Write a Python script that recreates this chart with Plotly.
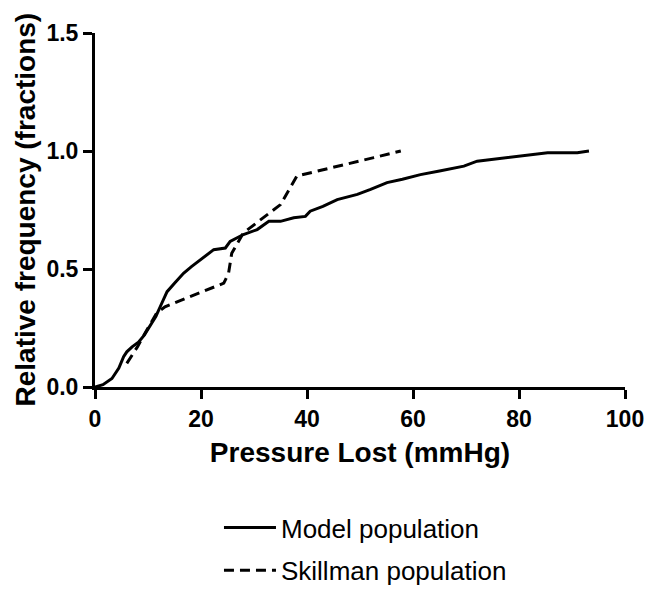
import plotly.graph_objects as go

# Model population (cumulative relative frequency)
model_x = [0, 1.5, 3.2, 4.5, 5.4, 6.0, 7.0, 8.2, 9.3, 10.4, 11.5, 12.3, 13.6, 15.0, 16.7,
           18.2, 19.9, 21.0, 22.4, 24.6, 25.5, 28.0, 30.6, 32.8, 35.0, 37.5, 39.7, 40.6,
           43.0, 45.7, 47.5, 49.5, 52.0, 55.1, 58.0, 61.4, 65.0, 69.6, 72.1, 75.0, 79.1,
           82.0, 85.4, 88.0, 91.0, 93.2]
model_y = [0, 0.01, 0.036, 0.08, 0.128, 0.149, 0.17, 0.19, 0.22, 0.262, 0.30, 0.34, 0.404,
           0.44, 0.482, 0.51, 0.539, 0.555, 0.582, 0.589, 0.617, 0.646, 0.667, 0.702, 0.702,
           0.717, 0.723, 0.745, 0.765, 0.794, 0.805, 0.816, 0.837, 0.866, 0.88, 0.90, 0.915,
           0.936, 0.957, 0.965, 0.976, 0.985, 0.993, 0.993, 0.993, 1.0]

# Skillman population
skill_x = [6.0, 8.0, 10.0, 11.6, 13.2, 18.0, 24.3, 25.2, 25.8, 28.0, 31.2, 35.0, 38.1,
           45.0, 52.6, 57.7]
skill_y = [0.10, 0.17, 0.25, 0.312, 0.34, 0.383, 0.44, 0.482, 0.567, 0.653, 0.708, 0.773,
           0.894, 0.93, 0.972, 1.0]

x_ticks = [0, 20, 40, 60, 80, 100]
y_ticks = [0.0, 0.5, 1.0, 1.5]
y_tick_labels = ["0.0", "0.5", "1.0", "1.5"]

x_title = "Pressure Lost (mmHg)"
y_title = "Relative frequency (fractions)"

SANS = "Liberation Sans, Arial, Helvetica, sans-serif"

fig = go.Figure()
fig.add_trace(go.Scatter(x=model_x, y=model_y, mode="lines", name="Model population",
                         line=dict(color="black", width=3), legendgroup="a"))
fig.add_trace(go.Scatter(x=skill_x, y=skill_y, mode="lines", name="Skillman population",
                         line=dict(color="black", width=3, dash="10px,6px"), legendgroup="b"))

# page body has an 8px default margin, so the figure is sized/placed to compensate
fig.update_layout(
    width=644, height=585,
    margin=dict(l=87, r=27, t=25, b=206, autoexpand=False),
    plot_bgcolor="white", paper_bgcolor="white",
    showlegend=True,
    legend=dict(x=0.3276, y=0.152, xref="container", yref="container",
                xanchor="left", yanchor="top",
                font=dict(family=SANS, size=26, color="black"),
                tracegroupgap=6, traceorder="grouped", itemwidth=52,
                bgcolor="rgba(0,0,0,0)"),
    xaxis=dict(range=[0, 100], tickvals=x_ticks, showgrid=False, zeroline=False,
               showline=True, linecolor="black", linewidth=3, automargin=False,
               ticks="outside", ticklen=9, tickwidth=3, tickcolor="black",
               tickfont=dict(family=SANS, size=23, color="black", weight="bold"),
               title=dict(text="<b>" + x_title + "</b>", standoff=12,
                          font=dict(family=SANS, size=28, color="black"))),
    yaxis=dict(range=[0, 1.5], tickvals=y_ticks, ticktext=y_tick_labels,
               showgrid=False, zeroline=False, automargin=False,
               showline=True, linecolor="black", linewidth=3,
               ticks="outside", ticklen=9, tickwidth=3, tickcolor="black",
               tickfont=dict(family=SANS, size=23, color="black", weight="bold")),
    annotations=[dict(text="<b>" + y_title + "</b>", textangle=-90,
                      xref="paper", yref="paper", x=-0.133, y=0.5,
                      xanchor="center", yanchor="middle", showarrow=False,
                      font=dict(family=SANS, size=28, color="black"))],
)

fig.write_html("out.html")
